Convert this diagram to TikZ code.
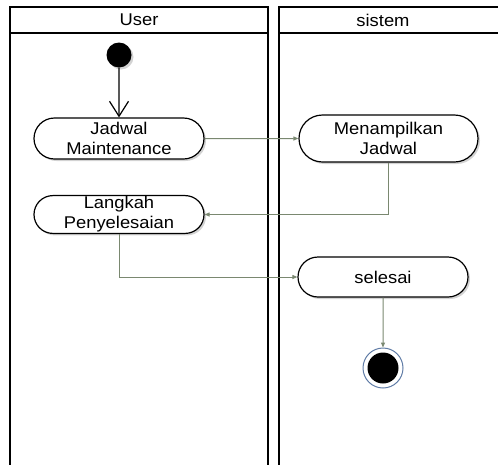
\documentclass[tikz,border=0pt]{standalone}
\usepackage{fontspec}
\setmainfont{Liberation Sans}[FakeStretch=1.08]
\usetikzlibrary{arrows.meta,shapes.misc,shadows}
\definecolor{flowgray}{RGB}{122,136,112}
\definecolor{ringblue}{RGB}{96,124,166}
\tikzset{
	lane/.style={line width=2pt,black},
	action/.style={rounded rectangle,draw,line width=1.2pt,fill=white,
		minimum width=172pt,minimum height=40pt,align=center,inner sep=1pt,
		font=\fontsize{17}{20}\selectfont,
		drop shadow={shadow xshift=2pt,shadow yshift=-2pt,opacity=0.35}},
	flow/.style={flowgray,line width=1pt,-{Triangle[length=5pt,width=4pt]}}
}
\begin{document}
\begin{tikzpicture}[x=1pt,y=-1pt]
	\useasboundingbox (0,0) rectangle (498,464);
	\clip (0,0) rectangle (498,464);
	% lanes
	\draw[lane] (10,7) rectangle (268,480);
	\draw[lane] (10,33) -- (268,33);
	\draw[lane] (279,7) rectangle (520,480);
	\draw[lane] (279,33) -- (520,33);
	\node[font=\fontsize{17}{20}\selectfont] (user) at (139,20) {User};
	\node[font=\fontsize{17}{20}\selectfont] (sistem) at (383,20) {sistem};
	% start and end
	\node[circle,fill=black,minimum size=25pt,inner sep=0pt,
		drop shadow={shadow xshift=2pt,shadow yshift=-2pt,opacity=0.35}] (start) at (119,55) {};
	\node[circle,draw=ringblue,line width=1pt,fill=white,minimum size=40pt,inner sep=0pt] (finish) at (383,368) {};
	\node[circle,fill=black,minimum size=31pt,inner sep=0pt] (finishdot) at (finish) {};
	% actions
	\node[action,minimum height=41pt] (jadwal) at (119,138.5) {Jadwal\\Maintenance};
	\node[action,minimum width=181pt,minimum height=47pt] (tampil) at (388.5,138.5) {Menampilkan\\Jadwal};
	\node[action,minimum height=37pt] (langkah) at (119,214.5) {Langkah\\Penyelesaian};
	\node[action] (selesai) at (383,277) {selesai};
	% flows
	\draw[line width=1.2pt,-{Straight Barb[length=15pt,width=19pt,line width=1.2pt]}] (start) -- (jadwal);
	\draw[flow] (jadwal) -- (tampil);
	\draw[flow] (tampil.south) |- (langkah.east);
	\draw[flow] (langkah.south) |- (selesai.west);
	\draw[flow] (selesai) -- (finish);
\end{tikzpicture}
\end{document}
